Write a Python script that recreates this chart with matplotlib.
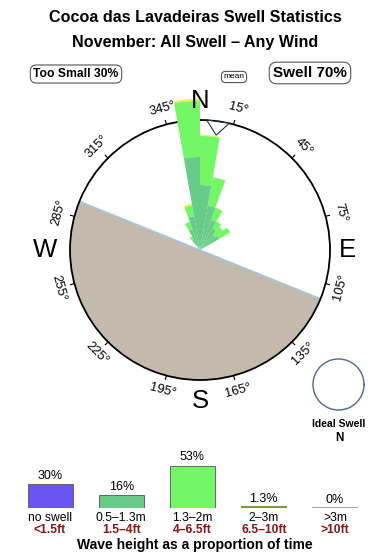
import numpy as np
import matplotlib.pyplot as plt

plt.rcParams['font.family'] = ['Liberation Sans', 'DejaVu Sans']

# rose data: direction bin centres (deg) and cumulative band heights
rose_dirs = [325, 335, 345, 355, 5, 15, 25, 35, 45, 55]
rose_mid = [12, 22, 34, 93, 65, 45, 32, 25, 20, 22]      # 0.5-1.3m
rose_big = [16, 30, 45, 149, 114, 74, 45, 33, 30, 35]    # 1.3-2m
rose_top = [16, 30, 47, 151, 115, 74, 45, 33, 30, 35]    # 2-3m
bin_width = 10
mean_dir = 8

# bottom bar chart
cats = ['no swell', '0.5\u20131.3m', '1.3\u20132m', '2\u20133m', '>3m']
feet = ['<1.5ft', '1.5\u20134ft', '4\u20136.5ft', '6.5\u201310ft', '>10ft']
pcts = [30, 16, 53, 1.3, 0]
pct_labels = ['30%', '16%', '53%', '1.3%', '0%']
bar_cols = ['#6a55f2', '#66cc88', '#74f766', '#7a9a3a', '#b0a0a0']

W, H = 390, 560


def fx(x):
    return x / W


def fy(y):
    return 1 - y / H


fig = plt.figure(figsize=(3.9, 5.6), dpi=100)

fig.text(fx(195), fy(17), 'Cocoa das Lavadeiras Swell Statistics', ha='center', va='center',
         fontsize=11.6, fontweight='bold')
fig.text(fx(195), fy(42), 'November: All Swell \u2013 Any Wind', ha='center', va='center',
         fontsize=11.6, fontweight='bold')

box = dict(boxstyle='round,pad=0.25,rounding_size=0.5', fc='white', ec='#555555', lw=0.8)
fig.text(fx(76), fy(74), 'Too Small 30%', ha='center', va='center', fontsize=8.7,
         fontweight='bold', bbox=box)
fig.text(fx(234), fy(77), 'mean', ha='center', va='center', fontsize=6, bbox=box)
fig.text(fx(310), fy(73), 'Swell 70%', ha='center', va='center', fontsize=11,
         fontweight='bold', bbox=box)

# ---- rose ----
R = 130
ax = fig.add_axes([fx(70), fy(380), 260 / W, 260 / H], projection='polar')
ax.set_theta_zero_location('N')
ax.set_theta_direction(-1)
ax.set_ylim(0, R)
ax.grid(False)
ax.set_xticks([])
ax.set_yticks([])
ax.spines['polar'].set_linewidth(1.3)
ax.set_facecolor('white')

# land
ax.bar(np.radians(202), R, width=np.pi, color='#c4b9ad', lw=0, zorder=1)
for a in (292, 112):
    ax.plot([np.radians(a)] * 2, [0, R], color='#9ec9ec', lw=1, zorder=2)

th = np.radians(rose_dirs)
wd = np.radians(bin_width)
mid = np.array(rose_mid)
big = np.array(rose_big)
top = np.array(rose_top)
ax.bar(th, top - big, width=wd, bottom=big, color='#e8f04a', lw=0, zorder=3, clip_on=False)
ax.bar(th, big - mid, width=wd, bottom=mid, color='#74f766', lw=0, zorder=3, clip_on=False)
ax.bar(th, mid, width=wd, bottom=0, color='#66cc88', lw=0, zorder=3, clip_on=False)

# mean marker
m = np.radians(mean_dir)
ax.fill([m - np.radians(5), m, m + np.radians(5)], [R, R - 14, R], color='white',
        ec='#223344', lw=0.8, zorder=4, clip_on=False)

# degree ticks and labels
for d in range(15, 360, 30):
    t = np.radians(d)
    ax.plot([t, t], [R, R + 4], color='black', lw=0.8, clip_on=False)
    rot = -d
    while rot < -90:
        rot += 180
    ax.text(t, R + 16, '%d\u00b0' % d, ha='center', va='center', rotation=rot,
            rotation_mode='anchor', fontsize=9.3)

for lab, d, r in (('N', 0, 149), ('E', 90, 147), ('S', 180, 151), ('W', 270, 155)):
    ax.text(np.radians(d), r, lab, ha='center', va='center', fontsize=18.5)

# ideal swell
ax2 = fig.add_axes([fx(313), fy(410), 51 / W, 51 / H], projection='polar')
ax2.grid(False)
ax2.set_xticks([])
ax2.set_yticks([])
ax2.spines['polar'].set_color('#4a6a8c')
ax2.spines['polar'].set_linewidth(1)
fig.text(fx(339), fy(424), 'Ideal Swell', ha='center', va='center', fontsize=7.5,
         fontweight='bold')
fig.text(fx(339), fy(438), 'N', ha='center', va='center', fontsize=8.5, fontweight='bold')

# ---- bottom bars ----
sp = 71.25
bx = fig.add_axes([0, fy(508), 1, 68 / H])
bx.axis('off')
bx.set_xlim(-50 / sp, (W - 50) / sp)
bx.set_ylim(0, 85)
x = np.arange(len(cats))
bx.bar(x, pcts, width=45 / sp, color=bar_cols, edgecolor='#555555', lw=0.6)
for i in range(len(cats)):
    if pcts[i] < 2:
        bx.plot([i - 22 / sp, i + 22 / sp], [pcts[i], pcts[i]], color=bar_cols[i], lw=1.5)
    bx.text(x[i], pcts[i] + 3, pct_labels[i], ha='center', va='bottom', fontsize=9)
    bx.text(x[i], -13, cats[i], ha='center', va='center', fontsize=8.7, clip_on=False)
    bx.text(x[i], -27, feet[i], ha='center', va='center', fontsize=8.7, color='#881515',
            fontweight='bold', clip_on=False)
fig.text(fx(195), fy(545), 'Wave height as a proportion of time', ha='center', va='center',
         fontsize=10, fontweight='bold')

fig.savefig('out.png', dpi=100)
